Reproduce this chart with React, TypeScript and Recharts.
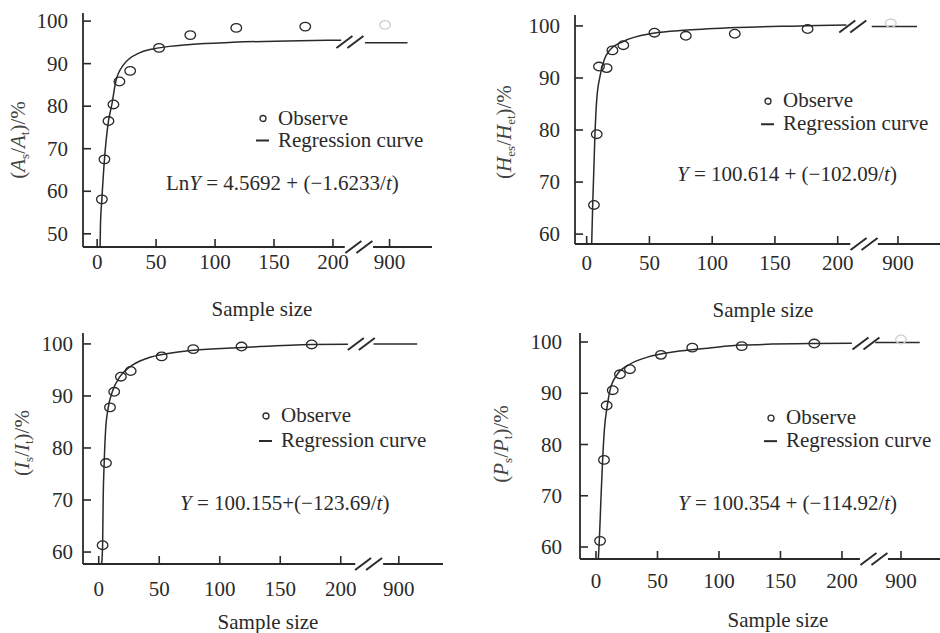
import React from "react";
import {
  ComposedChart,
  Line,
  Scatter,
  XAxis,
  YAxis,
  ReferenceLine,
  ReferenceDot,
  Legend,
} from "recharts";

// x axis: 0..200 then a break, then 900
const xTickSizes = [0, 50, 100, 150, 200, 900];
const xTickLabels = ["0", "50", "100", "150", "200", "900"];
const tailSizes = [790, 980];

// (As/At)
const aSizes = [4, 6.2, 9.6, 13.8, 18.9, 28, 52.5, 79, 118, 176.5];
const aObserved = [58.1, 67.5, 76.5, 80.4, 85.8, 88.3, 93.7, 96.7, 98.4, 98.7];
const aCurveSizes = [2.5, 2.8, 4, 6.2, 9.6, 12.4, 15.8, 22.3, 36.4, 52.5, 79, 115, 172, 207];
const aCurveValues = [46.9, 52, 58.1, 67.5, 76.5, 80.3, 85.8, 89.7, 92.6, 93.7, 94.5, 95.0, 95.4, 95.5];
const aTail = 94.9;

// (Hes/Het)
const hSizes = [5.8, 8, 9.8, 15.9, 20.5, 29.2, 54, 79, 118, 176];
const hObserved = [65.6, 79.2, 92.2, 91.9, 95.3, 96.3, 98.7, 98.1, 98.5, 99.4];
const hCurveSizes = [4, 4.8, 6.6, 8, 10.6, 14, 18.6, 29, 53, 80, 120, 170, 207];
const hCurveValues = [58.1, 65.6, 79.2, 85.8, 90.3, 93.5, 95.4, 97, 98.6, 99.2, 99.7, 100, 100.2];
const hTail = 99.9;

// (Is/It)
const iSizes = [3.2, 6.0, 9.3, 12.8, 18.3, 26.4, 52, 78.1, 118, 176];
const iObserved = [61.3, 77.1, 87.8, 90.8, 93.7, 94.8, 97.6, 99.0, 99.5, 99.9];
const iCurveSizes = [2.4, 3.2, 3.7, 4.5, 5.7, 7.9, 11.2, 17.5, 25.8, 39.6, 58.8, 78.1, 118, 176, 206];
const iCurveValues = [57.7, 61.3, 70.6, 77.1, 83.5, 87.8, 90.8, 93.7, 95.6, 97.2, 98.2, 98.8, 99.3, 99.9, 99.95];
const iTail = 100;

// (Ps/Pt)
const pSizes = [3.3, 6.5, 8.7, 13.6, 19.5, 27.6, 52.8, 78.3, 118.5, 177.5];
const pObserved = [61.2, 77.0, 87.6, 90.6, 93.7, 94.7, 97.5, 98.9, 99.2, 99.7];
const pCurveSizes = [1.9, 2.7, 4.1, 5.4, 6.8, 9.2, 11.4, 17.3, 26.3, 42.5, 64, 91, 118.5, 177.5, 208];
const pCurveValues = [57.66, 61.2, 69.8, 77, 82.8, 87.6, 90.6, 93.7, 95.5, 97.1, 98.1, 98.8, 99.4, 99.7, 99.75];
const pTail = 99.9;

const INK = "#2a2a2a";
const FONT = "'Liberation Serif', 'Times New Roman', serif";

// compress the part after the break so 900 sits just right of 200
const axisPos = (t: number) => (t <= 250 ? t : 248 + (t - 900) * 0.19);

const BreakMark = ({ cx, cy }: any) => (
  <g stroke={INK} strokeWidth={2}>
    {[-5.5, 5.5].map((d) => (
      <line key={d} x1={cx + d - 8} y1={cy + 6} x2={cx + d + 8} y2={cy - 6} />
    ))}
  </g>
);

const Ring = (props: any) => (
  <ellipse cx={props.cx} cy={props.cy} rx={5.3} ry={4.3} fill="none" stroke={props.color} strokeWidth={1.3} />
);

const LegendBox = ({ gap }: { gap: number }) => (
  <div style={{ fontFamily: FONT, fontSize: 21, color: INK, lineHeight: gap + "px", whiteSpace: "nowrap" }}>
    <div style={{ display: "flex", alignItems: "center" }}>
      <svg width={22} height={gap}>
        <circle cx={7} cy={gap / 2 + 0.5} r={3} fill="none" stroke={INK} strokeWidth={1.3} />
      </svg>
      <span>Observe</span>
    </div>
    <div style={{ display: "flex", alignItems: "center" }}>
      <svg width={22} height={gap}>
        <line x1={0} x2={13} y1={gap / 2 + 0.5} y2={gap / 2 + 0.5} stroke={INK} strokeWidth={2} />
      </svg>
      <span>Regression curve</span>
    </div>
  </div>
);

const panels = [
  {
    box: { left: 0, top: 0, width: 470, height: 316 },
    margin: { top: 13, right: 38, bottom: 29, left: 23 },
    xDomain: [-12, 284],
    yDomain: [46.9, 101.9],
    yTicks: [50, 60, 70, 80, 90, 100],
    yGap: 15,
    xDy: 14.7,
    sizes: aSizes,
    observed: aObserved,
    curveSizes: aCurveSizes,
    curveValues: aCurveValues,
    tail: aTail,
    faint: { size: 880, value: 99.1 },
    curveBreak: { x: 214.4, y: 95.1 },
    axisBreak: { end: 210, mid: 222, start: 234 },
    legend: { x: 256, y: 107, gap: 22 },
    formula: { x: 166, y: 183, text: <>Ln<i>Y</i> = 4.5692 + (−1.6233/<i>t</i>)</> },
    yTitle: { x: 18, y: 139.5, text: <>(<i>A</i><sub>s</sub>/<i>A</i><sub>t</sub>)/%</> },
    xTitle: { x: 262, y: 309 },
  },
  {
    box: { left: 470, top: 0, width: 470, height: 316 },
    margin: { top: 15, right: 0, bottom: 32, left: 45 },
    xDomain: [-9.3, 281.5],
    yDomain: [58.1, 102.1],
    yTicks: [60, 70, 80, 90, 100],
    yGap: 15,
    xDy: 18.5,
    sizes: hSizes,
    observed: hObserved,
    curveSizes: hCurveSizes,
    curveValues: hCurveValues,
    tail: hTail,
    faint: { size: 870, value: 100.5 },
    curveBreak: { x: 212, y: 99.9 },
    axisBreak: { end: 210, mid: 221, start: 232 },
    legend: { x: 291, y: 88.5, gap: 23.5 },
    formula: { x: 207, y: 174, text: <><i>Y</i> = 100.614 + (−102.09/<i>t</i>)</> },
    yTitle: { x: 34, y: 132, text: <>(<i>H</i><sub>es</sub>/<i>H</i><sub>et</sub>)/%</> },
    xTitle: { x: 293, y: 310 },
  },
  {
    box: { left: 0, top: 316, width: 470, height: 317 },
    margin: { top: 17, right: 27, bottom: 29, left: 23 },
    xDomain: [-13, 284.5],
    yDomain: [57.7, 102.1],
    yTicks: [60, 70, 80, 90, 100],
    yGap: 10,
    xDy: 24.5,
    sizes: iSizes,
    observed: iObserved,
    curveSizes: iCurveSizes,
    curveValues: iCurveValues,
    tail: iTail,
    faint: null,
    curveBreak: { x: 217, y: 100 },
    axisBreak: { end: 212, mid: 223, start: 235 },
    legend: { x: 259, y: 87, gap: 25 },
    formula: { x: 180, y: 187, text: <><i>Y</i> = 100.155+(−123.69/<i>t</i>)</> },
    yTitle: { x: 21.5, y: 126.5, text: <>(<i>I</i><sub>s</sub>/<i>I</i><sub>t</sub>)/%</> },
    xTitle: { x: 268, y: 305.5 },
  },
  {
    box: { left: 470, top: 316, width: 470, height: 317 },
    margin: { top: 17, right: 0, bottom: 34, left: 50 },
    xDomain: [-13, 279.7],
    yDomain: [57.66, 101.76],
    yTicks: [60, 70, 80, 90, 100],
    yGap: 18,
    xDy: 21.5,
    sizes: pSizes,
    observed: pObserved,
    curveSizes: pCurveSizes,
    curveValues: pCurveValues,
    tail: pTail,
    faint: { size: 900, value: 100.5 },
    curveBreak: { x: 219.5, y: 99.7 },
    axisBreak: { end: 214.6, mid: 226, start: 237.4 },
    legend: { x: 294, y: 89.5, gap: 23.3 },
    formula: { x: 208, y: 187, text: <><i>Y</i> = 100.354 + (−114.92/<i>t</i>)</> },
    yTitle: { x: 31, y: 127.5, text: <>(<i>P</i><sub>s</sub>/<i>P</i><sub>t</sub>)/%</> },
    xTitle: { x: 308, y: 304 },
  },
];

const textStyle: React.CSSProperties = {
  position: "absolute",
  fontFamily: FONT,
  fontSize: 21,
  lineHeight: "22px",
  color: INK,
  whiteSpace: "nowrap",
};

function Panel({ cfg }: { cfg: any }) {
  const xTicks = xTickSizes.map(axisPos);
  const points = cfg.sizes.map((t: number, i: number) => ({ x: axisPos(t), y: cfg.observed[i] }));
  const curve = cfg.curveSizes.map((t: number, i: number) => ({ x: axisPos(t), y: cfg.curveValues[i] }));
  const tail = tailSizes.map((t) => ({ x: axisPos(t), y: cfg.tail }));
  const faint = cfg.faint ? [{ x: axisPos(cfg.faint.size), y: cfg.faint.value }] : [];
  const [xMin, xMax] = cfg.xDomain;
  const yMin = cfg.yDomain[0];

  const XTick = ({ x, y, payload }: any) => {
    const i = xTicks.indexOf(payload.value);
    return (
      <g>
        <line x1={x} x2={x} y1={y} y2={y - 8} stroke={INK} strokeWidth={1.6} />
        <text x={x} y={y + cfg.xDy} textAnchor="middle" dominantBaseline="central" fontFamily={FONT} fontSize={21} fill={INK}>
          {xTickLabels[i]}
        </text>
      </g>
    );
  };

  const YTick = ({ x, y, payload }: any) => (
    <g>
      <line x1={x} x2={x + 8} y1={y} y2={y} stroke={INK} strokeWidth={1.6} />
      <text x={x - cfg.yGap} y={y} textAnchor="end" dominantBaseline="central" fontFamily={FONT} fontSize={21} fill={INK}>
        {payload.value}
      </text>
    </g>
  );

  return (
    <div style={{ position: "absolute", ...cfg.box }}>
      <ComposedChart width={cfg.box.width} height={cfg.box.height} margin={cfg.margin}>
        <XAxis
          type="number"
          dataKey="x"
          domain={cfg.xDomain}
          allowDataOverflow
          ticks={xTicks}
          interval={0}
          height={40}
          axisLine={false}
          tickLine={false}
          tickSize={0}
          tickMargin={0}
          tick={XTick}
        />
        <YAxis
          type="number"
          dataKey="y"
          domain={cfg.yDomain}
          allowDataOverflow
          ticks={cfg.yTicks}
          interval={0}
          width={60}
          axisLine={{ stroke: INK, strokeWidth: 1.8 }}
          tickLine={false}
          tickSize={0}
          tickMargin={0}
          tick={YTick}
        />
        <ReferenceLine
          segment={[{ x: xMin, y: yMin }, { x: cfg.axisBreak.end, y: yMin }]}
          stroke={INK}
          strokeWidth={1.8}
          ifOverflow="visible"
        />
        <ReferenceLine
          segment={[{ x: cfg.axisBreak.start, y: yMin }, { x: xMax, y: yMin }]}
          stroke={INK}
          strokeWidth={1.8}
          ifOverflow="visible"
        />
        <ReferenceDot x={cfg.axisBreak.mid} y={yMin} r={0} ifOverflow="visible" shape={(p: any) => <BreakMark cx={p.cx} cy={p.cy} />} />
        <ReferenceDot x={cfg.curveBreak.x} y={cfg.curveBreak.y} r={0} ifOverflow="visible" shape={(p: any) => <BreakMark cx={p.cx} cy={p.cy} />} />
        <Line data={curve} dataKey="y" type="monotone" dot={false} stroke={INK} strokeWidth={1.5} isAnimationActive={false} legendType="none" />
        <Line data={tail} dataKey="y" type="linear" dot={false} stroke={INK} strokeWidth={1.5} isAnimationActive={false} legendType="none" />
        <Scatter data={points} dataKey="y" shape={(p: any) => <Ring {...p} color={INK} />} isAnimationActive={false} legendType="none" />
        <Scatter data={faint} dataKey="y" shape={(p: any) => <Ring {...p} color="#cfcfcf" />} isAnimationActive={false} legendType="none" />
        <Legend
          layout="vertical"
          align="center"
          verticalAlign="middle"
          wrapperStyle={{ left: cfg.legend.x, top: cfg.legend.y, width: 220, height: 2 * cfg.legend.gap }}
          content={() => <LegendBox gap={cfg.legend.gap} />}
        />
      </ComposedChart>
      <div style={{ ...textStyle, left: cfg.formula.x, top: cfg.formula.y - 11 }}>{cfg.formula.text}</div>
      <div style={{ ...textStyle, left: cfg.xTitle.x, top: cfg.xTitle.y, transform: "translate(-50%, -50%)" }}>Sample size</div>
      <div
        style={{
          ...textStyle,
          left: cfg.yTitle.x,
          top: cfg.yTitle.y,
          transform: "translate(-50%, -50%) rotate(-90deg)",
          color: "#444",
        }}
      >
        {cfg.yTitle.text}
      </div>
    </div>
  );
}

export default function App() {
  return (
    <div style={{ position: "absolute", left: 0, top: 0, width: 940, height: 633, background: "#fff", overflow: "hidden" }}>
      <style>{"sub{font-size:13px;line-height:0;vertical-align:-4px}"}</style>
      {panels.map((cfg, i) => (
        <Panel key={i} cfg={cfg} />
      ))}
    </div>
  );
}
